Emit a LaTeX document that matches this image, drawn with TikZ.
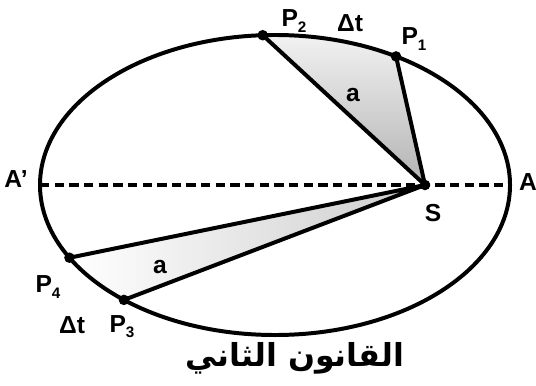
\documentclass[tikz,border=0pt]{standalone}
\usepackage{fontspec}
\setmainfont{Liberation Sans}
\newfontfamily\arabicfont[Script=Arabic]{DejaVu Sans}
\TeXXeTstate=1
\usetikzlibrary{calc}
\newcommand{\psub}[1]{P\raisebox{-0.4ex}{\fontsize{13}{14}\selectfont\bfseries #1}}

\begin{document}
\begin{tikzpicture}[x=0.03cm, y=0.03cm,
    orbit/.style={line width=3.4pt},
    ray/.style={line width=3.4pt, line join=round},
    axisline/.style={line width=3pt, dash pattern=on 8pt off 4.5pt},
    dot/.style={circle, fill=black, inner sep=0pt, minimum size=9pt},
    lbl/.style={font=\fontsize{21}{24}\selectfont\bfseries, inner sep=1pt}
]
\useasboundingbox (0,0) rectangle (536,385);

% points on the orbit
\coordinate (O) at (275,200);
\coordinate (S) at (425,200);
\coordinate (A1) at ($(O)+(180:235 and 150)$);
\coordinate (A) at ($(O)+(0:235 and 150)$);
\coordinate (P1) at ($(O)+(59:235 and 150)$);
\coordinate (P2) at ($(O)+(93:235 and 150)$);
\coordinate (P4) at ($(O)+(209:235 and 150)$);
\coordinate (P3) at ($(O)+(230:235 and 150)$);

% swept areas
\shade[top color=gray!10, bottom color=gray!60] (P2) arc[start angle=93, end angle=59, x radius=7.05cm, y radius=4.5cm] -- (S) -- cycle;
\shade[left color=white, right color=gray!40] (P4) arc[start angle=209, end angle=230, x radius=7.05cm, y radius=4.5cm] -- (S) -- cycle;

\draw[orbit] (O) ellipse[x radius=7.05cm, y radius=4.5cm];
\draw[axisline] (A1) -- (A);
\draw[ray] (P2) -- (S) -- (P1);
\draw[ray] (P4) -- (S) -- (P3);
\foreach \p in {P1,P2,P3,P4,S}
  \node[dot] (d\p) at (\p) {};

% labels
\node[lbl] (lP2) at (294,364) {\psub{2}};
\node[lbl] (dt1) at (350,362) {Δt};
\node[lbl] (lP1) at (414,346) {\psub{1}};
\node[lbl] (a1) at (353,290) {a};
\node[lbl] (lA1) at (16,206) {A\textquoteright};
\node[lbl] (lA) at (528,203) {A};
\node[lbl] (lS) at (433,172) {S};
\node[lbl] (lP4) at (48,98) {\psub{4}};
\node[lbl] (a2) at (160,118) {a};
\node[lbl] (dt2) at (72,60) {Δt};
\node[lbl] (lP3) at (122,58) {\psub{3}};
\node (law) at (295,27) {\arabicfont\bfseries\fontsize{27}{30}\selectfont\beginR القانون الثاني\endR};
\end{tikzpicture}
\end{document}
